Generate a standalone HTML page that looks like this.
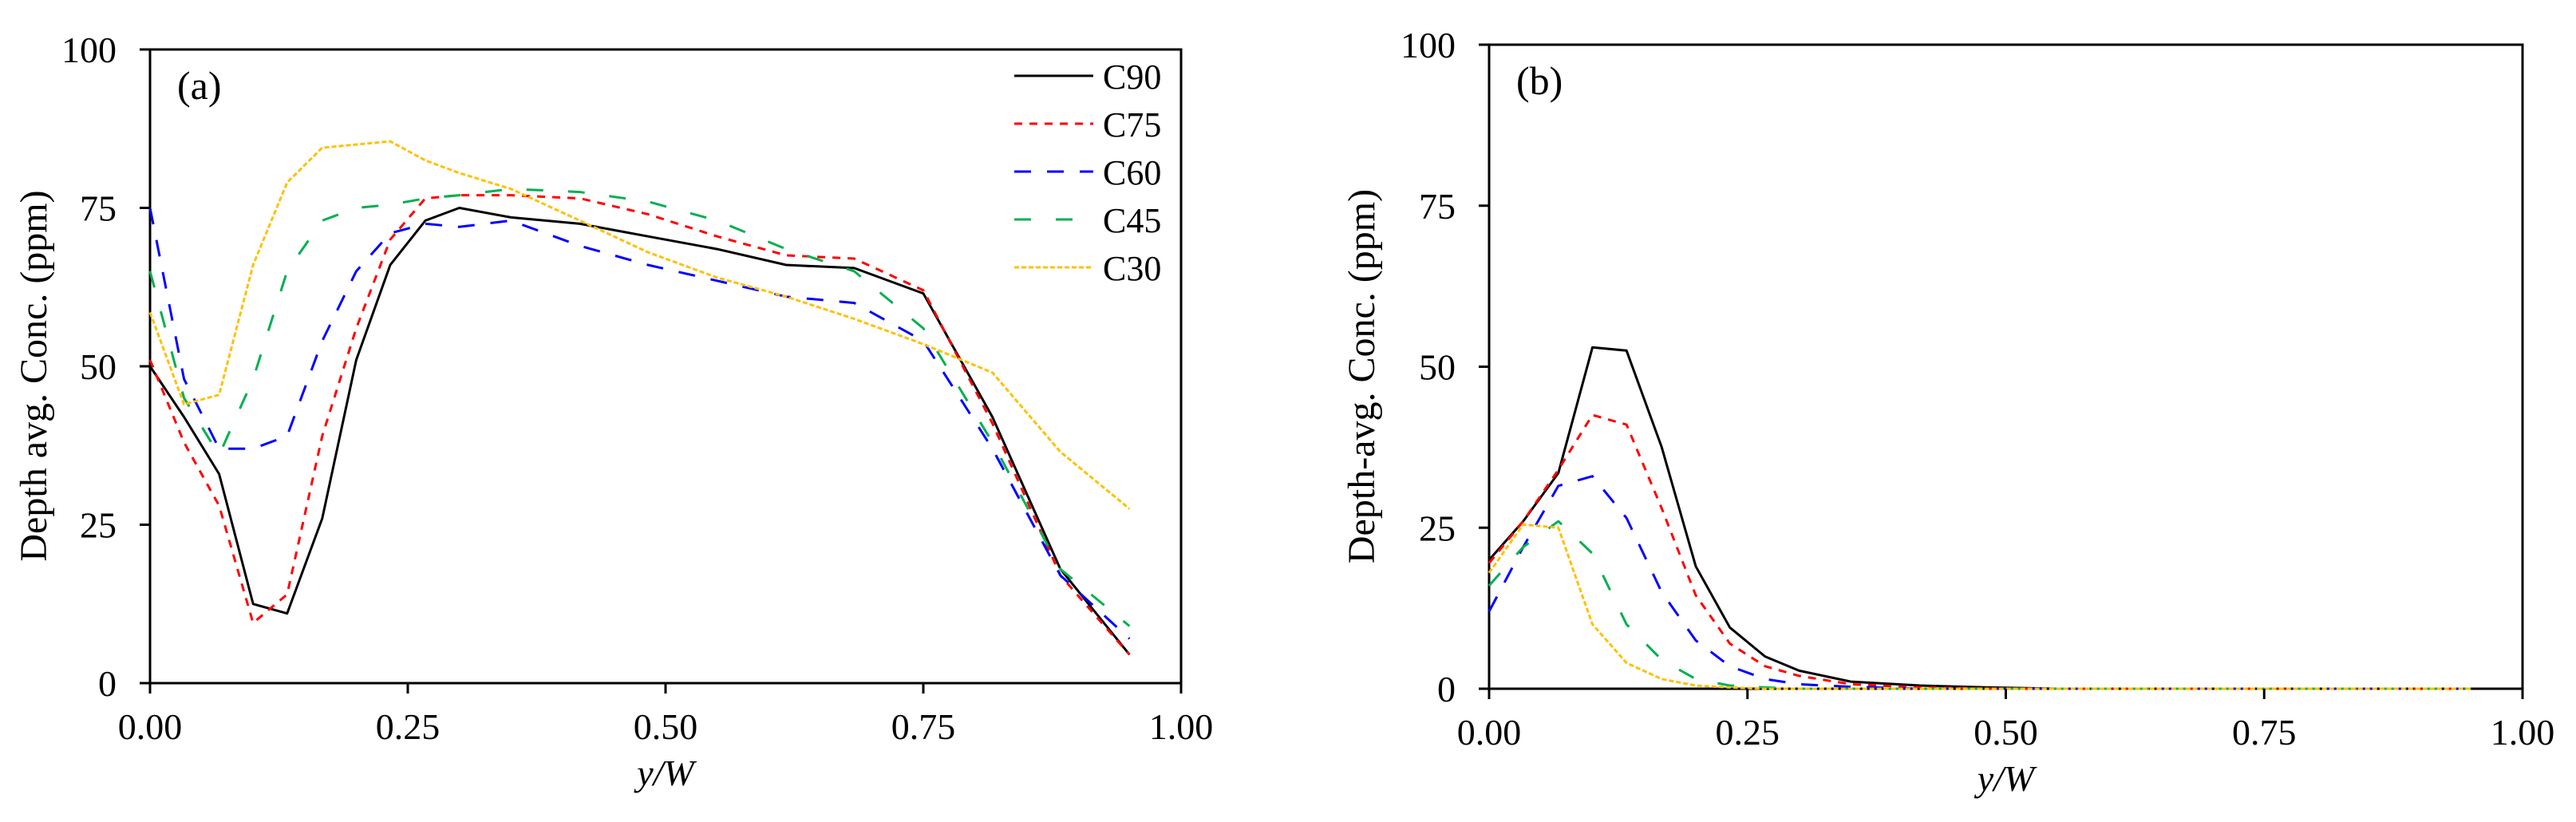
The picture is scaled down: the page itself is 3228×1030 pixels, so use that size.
<!DOCTYPE html>
<html><head><meta charset="utf-8"><style>
html,body{margin:0;padding:0;background:#fff;}
svg{display:block;font-family:"Liberation Serif",serif;}
</style></head><body>
<svg id="fig" width="3228" height="1030" viewBox="0 0 3228 1030" xmlns="http://www.w3.org/2000/svg"></svg>
<script>
const xs = [0,0.033,0.067,0.1,0.133,0.167,0.2,0.233,0.267,0.3,0.35,0.417,0.483,0.55,0.617,0.683,0.75,0.817,0.883,0.95];
const seriesNames = ["C90","C75","C60","C45","C30"];
const xTicks = ["0.00","0.25","0.50","0.75","1.00"];
const yTicks = ["0","25","50","75","100"];
const aC90 = [50,42,33,12.5,11,26,51,66,73,75,73.5,72.5,70.5,68.5,66,65.5,61.5,42,18,4.5];
const aC75 = [51,38,28,9.5,14,39,56,70,76.5,77,77,76.5,74,70.5,67.5,67,62,41,17,4.5];
const aC60 = [75,48,37,37,39,54,65,71,72.5,72,73,69,66,63.5,61,60,54,37,17,7];
const aC45 = [65,45,36,48,65,73,75,75.5,76.5,77,78,77.5,76,73,68.5,65,56,38,18,9];
const aC30 = [58.5,44,45.5,66,79,84.5,85,85.5,82.5,80.5,78,73,68,64,61,57.5,53.5,49,36.5,27.5];
const bC90 = [20,26,33.5,53,52.5,37.5,19,9.5,5,2.8,1.1,0.5,0.2,0,0,0,0,0,0,0];
const bC75 = [19.5,26,34,42.5,41,28,14.5,7,3.5,2,0.7,0.2,0,0,0,0,0,0,0,0];
const bC60 = [12,22,31.5,33,26.5,15,7.5,3.5,1.5,0.7,0.3,0,0,0,0,0,0,0,0,0];
const bC45 = [16,22,26,21,10,4.5,1.5,0.5,0.2,0,0,0,0,0,0,0,0,0,0,0];
const bC30 = [18,25.5,25,10,4,1.5,0.5,0.2,0,0,0,0,0,0,0,0,0,0,0,0];

const styles = {
  C90:{c:"#000000",d:""},
  C75:{c:"#ff0000",d:"10 9"},
  C60:{c:"#0000ff",d:"21 20"},
  C45:{c:"#00b050",d:"21 31"},
  C30:{c:"#ffc000",d:"6 3"}
};
const NS="http://www.w3.org/2000/svg";
const svg=document.getElementById('fig');
function mk(tag,attrs,parent){const e=document.createElementNS(NS,tag);for(const k in attrs)e.setAttribute(k,attrs[k]);(parent||svg).appendChild(e);return e;}

function panel(p){
  const g=mk('g',{});
  
  
  const X=v=>p.L+v*(p.R-p.L);
  const Y=v=>p.B-v/100*(p.B-p.T);
  const fr=mk('rect',{x:p.L,y:p.T,width:p.R-p.L,height:p.B-p.T,fill:'none',stroke:'#000','stroke-width':3},g);
  
  
  p.data.forEach((arr,i)=>{
    const s=styles[seriesNames[i]];
    const pts=arr.map((v,j)=>X(xs[j]).toFixed(1)+','+Y(v).toFixed(1)).join(' ');
    const pl=mk('polyline',{points:pts,fill:'none',stroke:s.c,'stroke-width':3,'stroke-dasharray':s.d,'stroke-linejoin':'round'},g);
    
    
  });
  xTicks.forEach((t,i)=>{
    const x=X(i*0.25);
    mk('line',{x1:x,y1:p.B,x2:x,y2:p.B+13,stroke:'#000','stroke-width':3},g);
    const tx=mk('text',{x:x,y:p.B+70,'font-size':46,'text-anchor':'middle'},g);
    tx.textContent=t;
    
    
  });
  yTicks.forEach((t,i)=>{
    const y=Y(i*25);
    mk('line',{x1:p.L-13,y1:y,x2:p.L,y2:y,stroke:'#000','stroke-width':3},g);
    const tx=mk('text',{x:p.L-42,y:y+16,'font-size':46,'text-anchor':'end'},g);
    tx.textContent=t;
    
    
  });
  const xt=mk('text',{x:(p.L+p.R)/2,y:p.B+128,'font-size':46,'font-style':'italic','text-anchor':'middle'},g);
  xt.textContent='y/W';
  
  
  const yt=mk('text',{x:0,y:0,'font-size':48,'text-anchor':'middle',transform:`translate(${p.yx},${(p.T+p.B)/2+12}) rotate(-90)`},g);
  yt.textContent=p.ytitle;
  
  
  const pt=mk('text',{x:p.L+34,y:p.T+62,'font-size':50},g);
  pt.textContent='('+p.id+')';
  
  
  return g;
}
panel({id:'a',L:188,R:1480,T:62,B:856,yx:58,ytitle:'Depth avg. Conc. (ppm)',data:[aC90,aC75,aC60,aC45,aC30]});
panel({id:'b',L:1866,R:3161,T:56,B:863,yx:1722,ytitle:'Depth-avg. Conc. (ppm)',data:[bC90,bC75,bC60,bC45,bC30]});

const lg=mk('g',{});


seriesNames.forEach((n,i)=>{
  const y=95+i*60;
  const s=styles[n];
  const e=mk('g',{},lg);
  
  
  mk('line',{x1:1271,y1:y,x2:1370,y2:y,stroke:s.c,'stroke-width':3,'stroke-dasharray':s.d},e);
  const t=mk('text',{x:1382,y:y+16,'font-size':44},e);
  t.textContent=n;
});
</script>
</body></html>
